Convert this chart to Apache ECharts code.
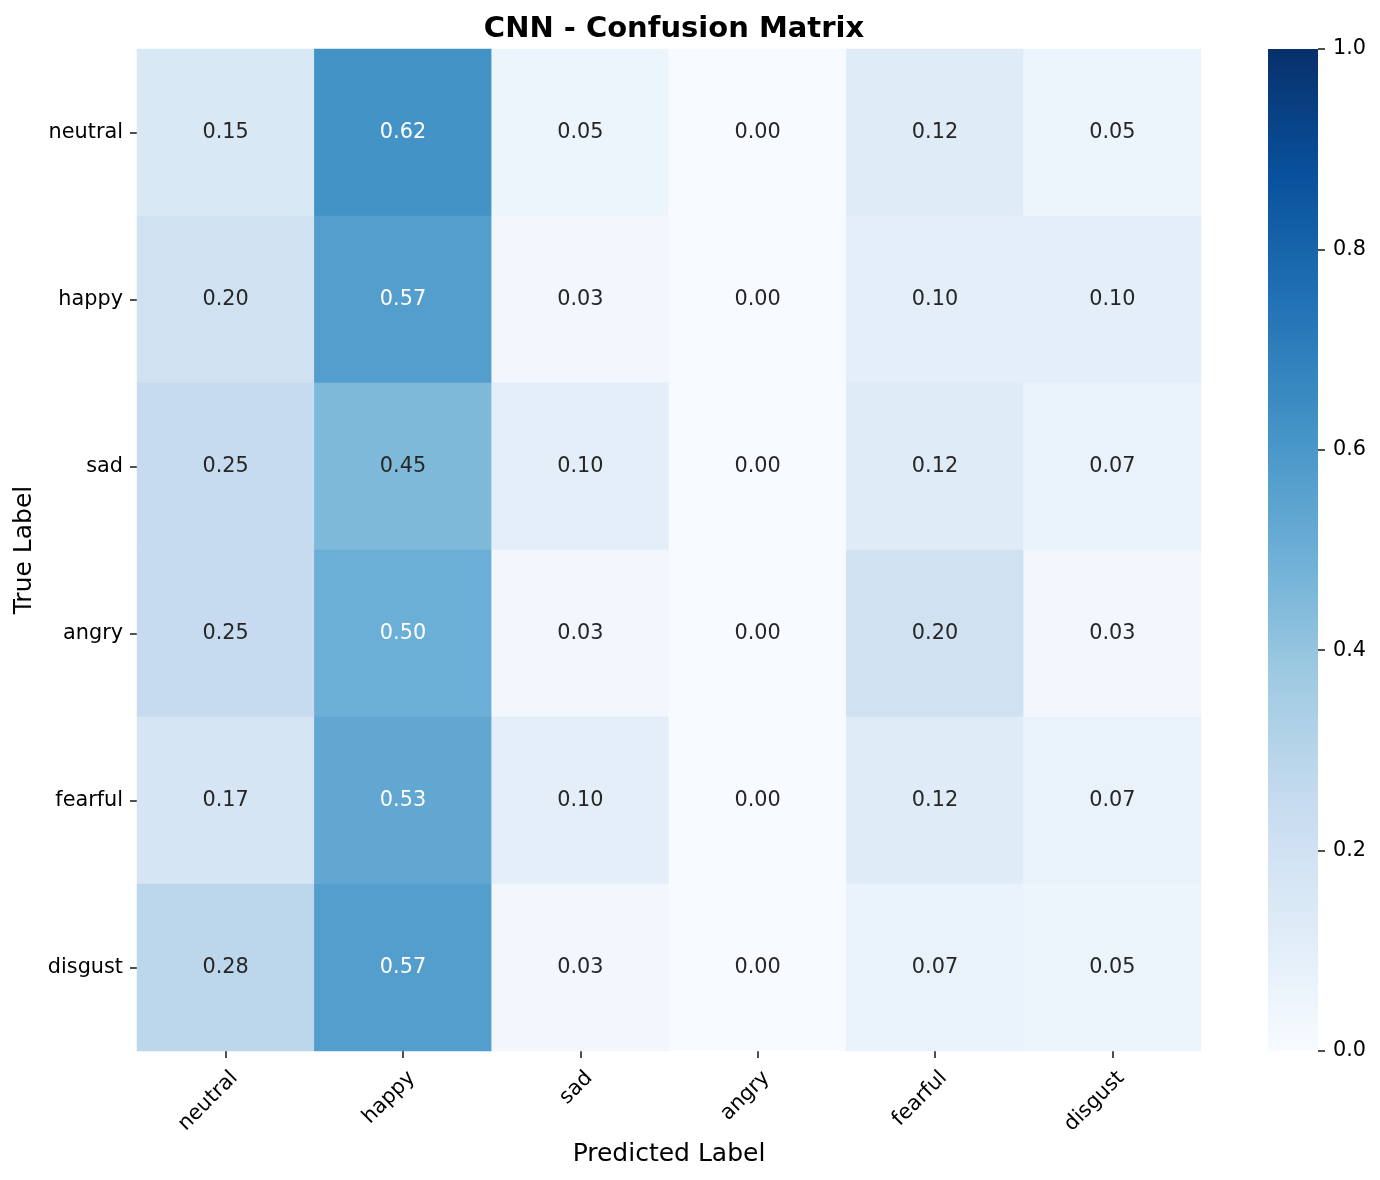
<!DOCTYPE html>
<html>
<head>
<meta charset="utf-8">
<script src="https://cdn.jsdelivr.net/npm/echarts@6/dist/echarts.min.js"></script>
<style>html,body{margin:0;padding:0;background:#fff;}#c{width:1380px;height:1180px;}</style>
</head>
<body>
<div id="c"></div>
<script>
const predictedLabels = ['neutral', 'happy', 'sad', 'angry', 'fearful', 'disgust'];
const trueLabels = ['neutral', 'happy', 'sad', 'angry', 'fearful', 'disgust'];
const rowNeutral = [0.15, 0.62, 0.05, 0.00, 0.12, 0.05];
const rowHappy   = [0.20, 0.57, 0.03, 0.00, 0.10, 0.10];
const rowSad     = [0.25, 0.45, 0.10, 0.00, 0.12, 0.07];
const rowAngry   = [0.25, 0.50, 0.03, 0.00, 0.20, 0.03];
const rowFearful = [0.17, 0.53, 0.10, 0.00, 0.12, 0.07];
const rowDisgust = [0.28, 0.57, 0.03, 0.00, 0.07, 0.05];
const colorRange = [0, 1];

const rows = [rowNeutral, rowHappy, rowSad, rowAngry, rowFearful, rowDisgust];
const blues = ['#f7fbff','#deebf7','#c6dbef','#9ecae1','#6baed6','#4292c6','#2171b5','#08519c','#08306b'];
const FONT = 'DejaVu Sans';

const data = [];
rows.forEach((row, yi) => {
  row.forEach((v, xi) => {
    data.push({ value: [xi, yi, v], label: { color: v > 0.47 ? '#ffffff' : '#262626' } });
  });
});

const cbGradient = new echarts.graphic.LinearGradient(0, 1, 0, 0,
  blues.map((c, i) => ({ offset: i / (blues.length - 1), color: c })));

const chart = echarts.init(document.getElementById('c'), null, { renderer: 'canvas' });
chart.setOption({
  animation: false,
  backgroundColor: '#ffffff',
  textStyle: { fontFamily: FONT },
  title: {
    text: 'CNN - Confusion Matrix',
    left: 669, top: 10, textAlign: 'center',
    textStyle: { fontFamily: FONT, fontSize: 29, fontWeight: 'bold', color: '#000' }
  },
  grid: [
    { left: 137, top: 49, width: 1064, height: 1002 },
    { left: 1268, top: 49, width: 50, height: 1002 }
  ],
  xAxis: [
    {
      type: 'category', data: predictedLabels, gridIndex: 0,
      name: 'Predicted Label', nameLocation: 'middle', nameGap: 88,
      nameTextStyle: { fontFamily: FONT, fontSize: 25, color: '#000' },
      axisLine: { show: false },
      axisTick: { show: true, alignWithLabel: true, length: 7, lineStyle: { color: '#222', width: 1.6 } },
      axisLabel: {
        rotate: 45, margin: 15, fontSize: 20.8, color: '#000', fontFamily: FONT,
        verticalAlign: 'top', padding: [2, 0, 0, 0]
      },
      splitLine: { show: false }
    },
    { type: 'category', gridIndex: 1, show: false, data: ['colorbar'] }
  ],
  yAxis: [
    {
      type: 'category', data: trueLabels, gridIndex: 0, inverse: true,
      name: 'True Label', nameLocation: 'middle', nameGap: 99, nameRotate: 90,
      nameTextStyle: { fontFamily: FONT, fontSize: 25, color: '#000' },
      axisLine: { show: false },
      axisTick: { show: true, alignWithLabel: true, length: 7, lineStyle: { color: '#222', width: 1.6 } },
      axisLabel: { margin: 14, fontSize: 20.8, color: '#000', fontFamily: FONT },
      splitLine: { show: false }
    },
    {
      type: 'value', gridIndex: 1, position: 'right', min: colorRange[0], max: colorRange[1], interval: 0.2,
      axisLine: { show: false },
      axisTick: { show: true, inside: false, length: 7, lineStyle: { color: '#222', width: 1.6 } },
      axisLabel: { margin: 15, fontSize: 20.8, color: '#000', fontFamily: FONT,
        formatter: v => v.toFixed(1) },
      splitLine: { show: false }
    }
  ],
  visualMap: {
    type: 'continuous', min: colorRange[0], max: colorRange[1], seriesIndex: 0,
    show: false,
    inRange: { color: blues }
  },
  series: [
    {
      type: 'heatmap', xAxisIndex: 0, yAxisIndex: 0, data: data,
      itemStyle: { borderWidth: 0 },
      label: { show: true, fontSize: 20.8, fontFamily: FONT, formatter: p => p.value[2].toFixed(2) },
      emphasis: { disabled: true }
    },
    {
      type: 'bar', xAxisIndex: 1, yAxisIndex: 1, data: [colorRange[1]],
      barWidth: '100%', silent: true,
      itemStyle: { color: cbGradient, borderWidth: 0 }
    }
  ]
});
</script>
</body>
</html>
